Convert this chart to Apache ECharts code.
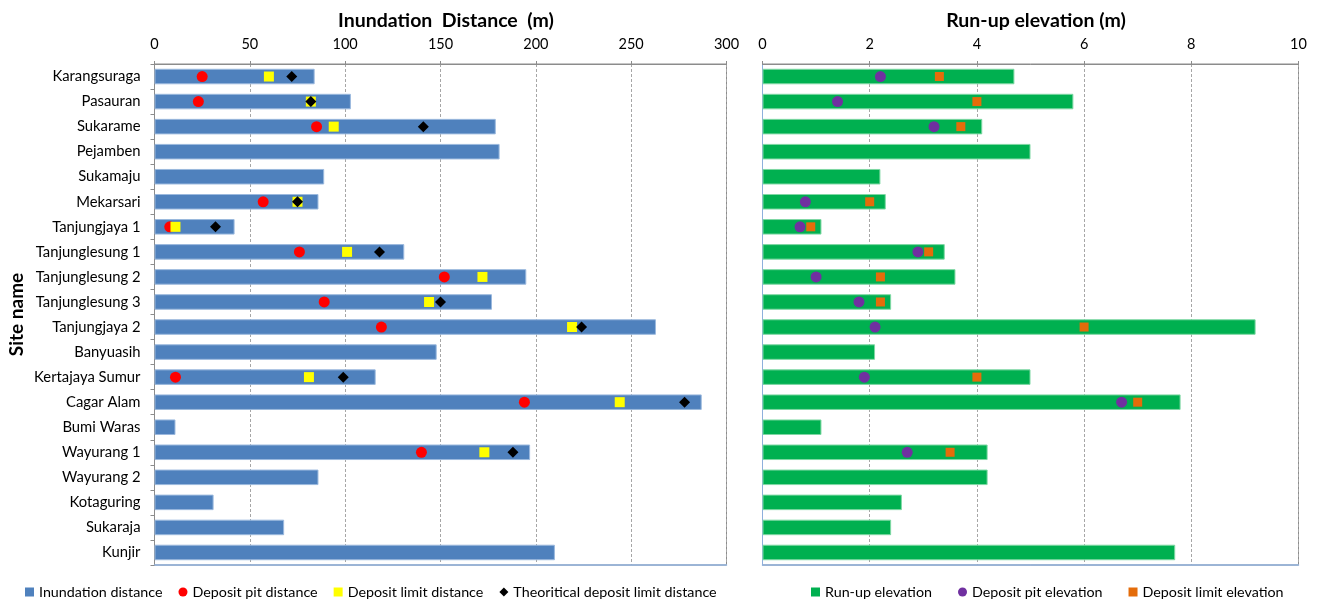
<!DOCTYPE html>
<html>
<head>
<meta charset="utf-8">
<script src="https://cdn.jsdelivr.net/npm/echarts@6/dist/echarts.min.js"></script>
<style>
  html, body { margin: 0; padding: 0; background: #fff; }
  #chart { width: 1320px; height: 602px; }
</style>
</head>
<body>
<div id="chart"></div>
<script>
// Survey sites, top to bottom
const sites = ['Karangsuraga', 'Pasauran', 'Sukarame', 'Pejamben', 'Sukamaju', 'Mekarsari',
  'Tanjungjaya 1', 'Tanjunglesung 1', 'Tanjunglesung 2', 'Tanjunglesung 3', 'Tanjungjaya 2',
  'Banyuasih', 'Kertajaya Sumur', 'Cagar Alam', 'Bumi Waras', 'Wayurang 1', 'Wayurang 2',
  'Kotaguring', 'Sukaraja', 'Kunjir'];

// Distances inland (m)
const inundationDistance = [84, 103, 179, 181, 89, 86, 42, 131, 195, 177, 263, 148, 116, 287, 11, 197, 86, 31, 68, 210];
const depositPitDistance = [25, 23, 85, null, null, 57, 8, 76, 152, 89, 119, null, 11, 194, null, 140, null, null, null, null];
const depositLimitDistance = [60, 82, 94, null, null, 75, 11, 101, 172, 144, 219, null, 81, 244, null, 173, null, null, null, null];
const theoreticalLimitDistance = [72, 82, 141, null, null, 75, 32, 118, null, 150, 224, null, 99, 278, null, 188, null, null, null, null];

// Elevations (m)
const runupElevation = [4.7, 5.8, 4.1, 5.0, 2.2, 2.3, 1.1, 3.4, 3.6, 2.4, 9.2, 2.1, 5.0, 7.8, 1.1, 4.2, 4.2, 2.6, 2.4, 7.7];
const depositPitElevation = [2.2, 1.4, 3.2, null, null, 0.8, 0.7, 2.9, 1.0, 1.8, 2.1, null, 1.9, 6.7, null, 2.7, null, null, null, null];
const depositLimitElevation = [3.3, 4.0, 3.7, null, null, 2.0, 0.9, 3.1, 2.2, 2.2, 6.0, null, 4.0, 7.0, null, 3.5, null, null, null, null];

// Axis ranges
const distanceAxis = { min: 0, max: 300, interval: 50 };
const elevationAxis = { min: 0, max: 10, interval: 2 };

const FONT = 'Lato, "Open Sans", sans-serif';

// pair each value with its site so the category axis places it
const pairs = vals => vals.map((v, i) => v == null ? null : [v, sites[i]]).filter(d => d);

const chart = echarts.init(document.getElementById('chart'));

const topAxis = (grid, range) => ({
  type: 'value', gridIndex: grid, position: 'top',
  min: range.min, max: range.max, interval: range.interval,
  axisLine: { show: true, lineStyle: { color: '#8c8c8c', width: 1 } },
  axisTick: { show: true, length: 3, lineStyle: { color: '#8c8c8c' } },
  axisLabel: { color: '#000', fontSize: 14.5, fontFamily: FONT, margin: 12 },
  splitLine: { show: true, lineStyle: { color: '#a6a6a6', type: [3, 2], width: 1 } }
});
const bottomLine = (grid, range) => ({
  type: 'value', gridIndex: grid, position: 'bottom',
  min: range.min, max: range.max, interval: range.interval,
  axisLine: { show: true, lineStyle: { color: '#8eb0dc', width: 1.5 } },
  axisTick: { show: false }, axisLabel: { show: false }, splitLine: { show: false }
});

const legendText = { fontSize: 14.3, color: '#000', fontFamily: FONT };

chart.setOption({
  animation: false,
  textStyle: { fontFamily: FONT },
  title: [
    { text: 'Inundation  Distance  (m)', left: 441, top: 6, textAlign: 'center',
      textStyle: { fontSize: 19.5, fontWeight: 'bold', color: '#000', fontFamily: FONT } },
    { text: 'Run-up elevation (m)', left: 1031, top: 6, textAlign: 'center',
      textStyle: { fontSize: 19.5, fontWeight: 'bold', color: '#000', fontFamily: FONT } }
  ],
  grid: [
    { left: 154.5, top: 64, width: 572, height: 501, show: true, borderColor: '#8c8c8c', borderWidth: 1 },
    { left: 762.5, top: 64, width: 536, height: 501, show: true, borderColor: '#8c8c8c', borderWidth: 1 }
  ],
  legend: [
    {
      left: 20, top: 580, itemWidth: 9, itemHeight: 9, itemGap: 16, itemTextGap: 5,
      itemStyle: { borderWidth: 0 },
      textStyle: legendText,
      data: [
        { name: 'Inundation distance', icon: 'rect' },
        { name: 'Deposit pit distance', icon: 'circle' },
        { name: 'Deposit limit distance', icon: 'rect' },
        { name: 'Theoritical deposit limit distance', icon: 'diamond' }
      ]
    },
    {
      left: 806, top: 580, itemWidth: 9, itemHeight: 9, itemGap: 26, itemTextGap: 5,
      itemStyle: { borderWidth: 0 },
      textStyle: legendText,
      data: [
        { name: 'Run-up elevation', icon: 'rect' },
        { name: 'Deposit pit elevation', icon: 'circle' },
        { name: 'Deposit limit elevation', icon: 'rect' }
      ]
    }
  ],
  xAxis: [
    topAxis(0, distanceAxis),
    topAxis(1, elevationAxis),
    bottomLine(0, distanceAxis),
    bottomLine(1, elevationAxis)
  ],
  yAxis: [
    {
      type: 'category', gridIndex: 0, data: sites, inverse: true,
      name: 'Site name', nameLocation: 'middle', nameRotate: 90, nameGap: 128,
      nameTextStyle: { fontSize: 19, fontWeight: 'bold', color: '#000', fontFamily: FONT },
      axisLine: { show: true, lineStyle: { color: '#8c8c8c' } },
      axisTick: { show: true, length: 4, lineStyle: { color: '#8c8c8c' } },
      axisLabel: { color: '#000', fontSize: 14.8, fontFamily: FONT, margin: 14 }
    },
    {
      type: 'category', gridIndex: 1, data: sites, inverse: true,
      axisLine: { show: true, lineStyle: { color: '#8eb0dc' } },
      axisTick: { show: false }, axisLabel: { show: false }
    }
  ],
  series: [
    {
      name: 'Inundation distance', type: 'bar', xAxisIndex: 0, yAxisIndex: 0,
      data: inundationDistance, barCategoryGap: '38%',
      itemStyle: { color: '#4f81bd', borderColor: '#9bb9de', borderWidth: 1 }
    },
    {
      name: 'Deposit pit distance', type: 'scatter', xAxisIndex: 0, yAxisIndex: 0,
      data: pairs(depositPitDistance), symbol: 'circle', symbolSize: 11,
      itemStyle: { color: '#ff0000', opacity: 1 }, z: 3
    },
    {
      name: 'Deposit limit distance', type: 'scatter', xAxisIndex: 0, yAxisIndex: 0,
      data: pairs(depositLimitDistance), symbol: 'rect', symbolSize: 10,
      itemStyle: { color: '#ffff00', opacity: 1 }, z: 4
    },
    {
      name: 'Theoritical deposit limit distance', type: 'scatter', xAxisIndex: 0, yAxisIndex: 0,
      data: pairs(theoreticalLimitDistance), symbol: 'diamond', symbolSize: 11,
      itemStyle: { color: '#000000', opacity: 1 }, z: 5
    },
    {
      name: 'Run-up elevation', type: 'bar', xAxisIndex: 1, yAxisIndex: 1,
      data: runupElevation, barCategoryGap: '38%',
      itemStyle: { color: '#00b050', borderColor: '#7fd8a4', borderWidth: 1 }
    },
    {
      name: 'Deposit pit elevation', type: 'scatter', xAxisIndex: 1, yAxisIndex: 1,
      data: pairs(depositPitElevation), symbol: 'circle', symbolSize: 11,
      itemStyle: { color: '#7030a0', opacity: 1 }, z: 3
    },
    {
      name: 'Deposit limit elevation', type: 'scatter', xAxisIndex: 1, yAxisIndex: 1,
      data: pairs(depositLimitElevation), symbol: 'rect', symbolSize: 9,
      itemStyle: { color: '#e46c0a', opacity: 1 }, z: 4
    }
  ]
});
</script>
</body>
</html>
